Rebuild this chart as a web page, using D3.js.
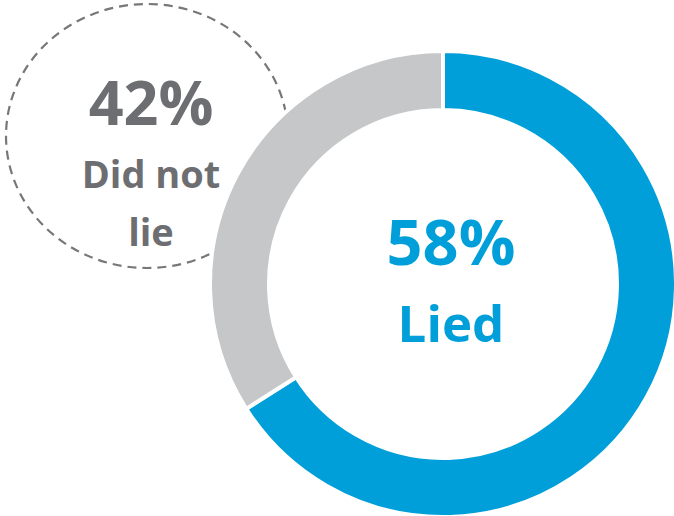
<!DOCTYPE html>
<html>
<head>
<meta charset="utf-8">
<script src="https://cdn.jsdelivr.net/npm/d3@7"></script>
<style>
  html, body { margin: 0; padding: 0; background: #fff; }
  svg { display: block; }
  text { font-family: "Open Sans", Lato, sans-serif; font-weight: 700; }
</style>
</head>
<body>
<svg id="chart" width="674" height="516"></svg>
<script>
// answers, in ring order (clockwise from 12 o'clock)
const answers = ["Lied", "Did not lie"];
const percents = [58, 42];          // what the labels say
const ringShares = [66, 34];        // how much of the ring each arc actually takes in the picture
const colors = ["#009fda", "#c6c7c9"];
const labelColors = ["#009fda", "#6d6e71"];

const svg = d3.select("#chart");

const cx = 443, cy = 284;
const outerR = 233, innerR = 174;

// dashed bubble behind the ring for the smaller answer
svg.append("ellipse")
    .attr("cx", 147)
    .attr("cy", 136)
    .attr("rx", 141)
    .attr("ry", 132)
    .attr("fill", "none")
    .attr("stroke", "#76777a")
    .attr("stroke-width", 2.2)
    .attr("stroke-dasharray", "9 6");

const pie = d3.pie().sort(null).value(d => d);
const arc = d3.arc().innerRadius(innerR).outerRadius(outerR);

svg.append("g")
    .attr("transform", `translate(${cx},${cy})`)
  .selectAll("path")
  .data(pie(ringShares))
  .join("path")
    .attr("d", arc)
    .attr("fill", (d, i) => colors[i])
    .attr("stroke", "#fff")
    .attr("stroke-width", 4);

// labels
const lied = svg.append("text")
    .attr("text-anchor", "middle")
    .attr("fill", labelColors[0]);
lied.append("tspan").attr("x", 451).attr("y", 265)
    .attr("font-size", 63).text(percents[0] + "%");
lied.append("tspan").attr("x", 451).attr("y", 342)
    .attr("font-size", 51).text(answers[0]);

const notLied = svg.append("text")
    .attr("text-anchor", "middle")
    .attr("fill", labelColors[1]);
notLied.append("tspan").attr("x", 151).attr("y", 125)
    .attr("font-size", 61).text(percents[1] + "%");
const words = answers[1].split(" ");
notLied.append("tspan").attr("x", 151).attr("y", 188)
    .attr("font-size", 38).text(words.slice(0, 2).join(" "));
notLied.append("tspan").attr("x", 151).attr("y", 246)
    .attr("font-size", 38).text(words.slice(2).join(" "));
</script>
</body>
</html>
